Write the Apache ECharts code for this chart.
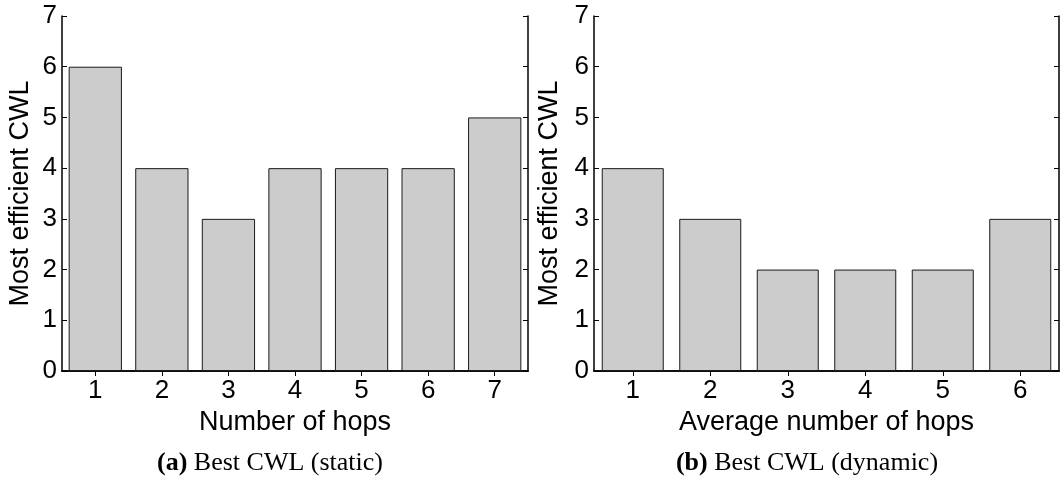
<!DOCTYPE html>
<html>
<head>
<meta charset="UTF-8">
<title>Best CWL</title>
<script src="https://cdn.jsdelivr.net/npm/echarts@6/dist/echarts.min.js"></script>
<style>
  html, body { margin: 0; padding: 0; background: #fff; }
</style>
</head>
<body>
    <div id="chart" style="width: 1060px;height:477px;"></div>
    <script type="text/javascript">
        // data
        var staticHops = ['1', '2', '3', '4', '5', '6', '7'];
        var staticCwl = [6, 4, 3, 4, 4, 4, 5];
        var dynamicHops = ['1', '2', '3', '4', '5', '6'];
        var dynamicCwl = [4, 3, 2, 2, 2, 3];
        var yTicks = [0, 1, 2, 3, 4, 5, 6, 7];

        var sans = 'Liberation Sans';
        var serif = 'Liberation Serif';

        function mainX(idx, cats, name) {
            return {
                type: 'category', gridIndex: idx, data: cats, position: 'bottom',
                name: name, nameLocation: 'middle', nameGap: 31,
                nameTextStyle: { fontFamily: sans, fontSize: 27, color: '#000' },
                axisLine: { lineStyle: { color: '#000', width: 1.5 } },
                axisTick: { show: false },
                axisLabel: { fontFamily: sans, fontSize: 26, color: '#000', margin: 7 }
            };
        }
        function topX(idx, cats) {
            return {
                type: 'category', gridIndex: idx, data: cats, position: 'top',
                axisLine: { lineStyle: { color: '#000', width: 1.5 } },
                axisTick: { show: true, inside: true, length: 5, alignWithLabel: true, lineStyle: { color: '#000' } },
                axisLabel: { show: false }
            };
        }
        function leftY(idx, gap) {
            return {
                type: 'value', gridIndex: idx, min: 0, max: 7, interval: 1, position: 'left',
                name: 'Most efficient CWL', nameLocation: 'middle', nameGap: gap,
                nameTextStyle: { fontFamily: sans, fontSize: 27, color: '#000' },
                axisLine: { show: true, lineStyle: { color: '#000', width: 1.5 } },
                axisTick: { show: true, inside: true, length: 5, lineStyle: { color: '#000' } },
                axisLabel: {
                    fontFamily: sans, fontSize: 26, color: '#000', margin: 5,
                    formatter: function (v) { return yTicks.indexOf(v) >= 0 ? String(v) : ''; }
                },
                splitLine: { show: false }
            };
        }
        function rightY(idx) {
            return {
                type: 'value', gridIndex: idx, min: 0, max: 7, interval: 1, position: 'right',
                axisLine: { show: true, lineStyle: { color: '#000', width: 1.5 } },
                axisTick: { show: true, inside: true, length: 5, lineStyle: { color: '#000' } },
                axisLabel: { show: false },
                splitLine: { show: false }
            };
        }

        var barStyle = { color: '#cccccc', borderColor: '#1a1a1a', borderWidth: 1 };

        var myChart = echarts.init(document.getElementById('chart'), null, { renderer: 'canvas' });

        var option = {
            animation: false,
            backgroundColor: '#fff',
            grid: [
                { left: 62, top: 16, width: 466, height: 355 },
                { left: 594, top: 16, width: 465, height: 355 }
            ],
            xAxis: [
                mainX(0, staticHops, 'Number of hops'),
                topX(0, staticHops),
                mainX(1, dynamicHops, 'Average number of hops'),
                topX(1, dynamicHops)
            ],
            yAxis: [
                leftY(0, 28),
                rightY(0),
                leftY(1, 31),
                rightY(1)
            ],
            series: [
                { type: 'bar', xAxisIndex: 0, yAxisIndex: 0, data: staticCwl, barCategoryGap: '20%', itemStyle: barStyle },
                { type: 'bar', xAxisIndex: 2, yAxisIndex: 2, data: dynamicCwl, barCategoryGap: '20%', itemStyle: barStyle }
            ],
            graphic: [
                {
                    type: 'text', x: 270, y: 463,
                    style: {
                        text: '{b|(a)} Best CWL (static)',
                        font: '26px "Liberation Serif"', fill: '#000',
                        align: 'center', verticalAlign: 'middle',
                        rich: { b: { fontFamily: serif, fontSize: 26, fontWeight: 'bold' } }
                    }
                },
                {
                    type: 'text', x: 807, y: 463,
                    style: {
                        text: '{b|(b)} Best CWL (dynamic)',
                        font: '26px "Liberation Serif"', fill: '#000',
                        align: 'center', verticalAlign: 'middle',
                        rich: { b: { fontFamily: serif, fontSize: 26, fontWeight: 'bold' } }
                    }
                }
            ]
        };

        myChart.setOption(option);
    </script>
</body>
</html>
